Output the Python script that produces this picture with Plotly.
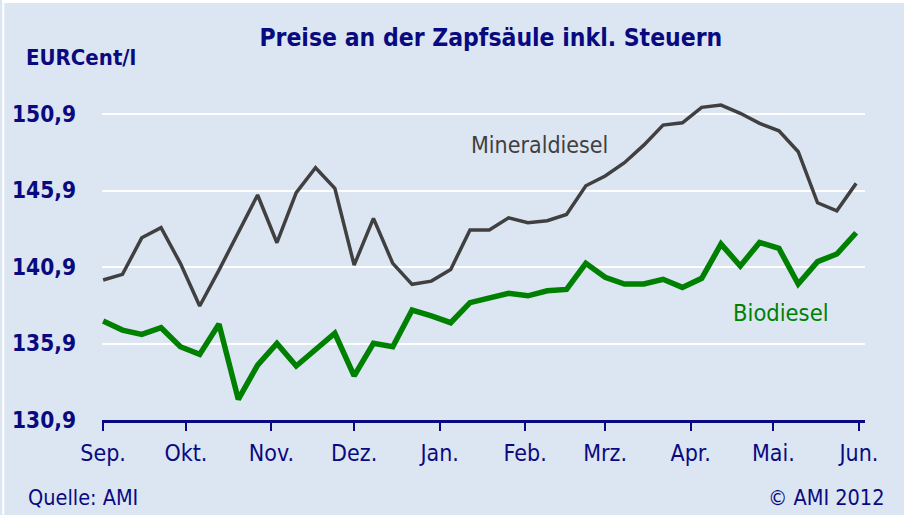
import plotly.graph_objects as go
import pandas as pd

dates = pd.date_range("2011-09-01", periods=40, freq="7D")

mineraldiesel = [140.05, 140.42, 142.81, 143.47, 141.14, 138.35, 140.70, 143.15, 145.61, 142.49,
                 145.76, 147.39, 146.04, 141.03, 144.08, 141.14, 139.77, 139.98, 140.74, 143.32,
                 143.32, 144.12, 143.80, 143.93, 144.34, 146.21, 146.85, 147.72, 148.87, 150.18,
                 150.33, 151.34, 151.49, 150.95, 150.29, 149.81, 148.44, 145.10, 144.58, 146.37]

biodiesel = [137.37, 136.78, 136.50, 136.93, 135.69, 135.19, 137.17, 132.25, 134.49, 135.91,
             134.43, 135.47, 136.57, 133.78, 135.91, 135.69, 138.09, 137.70, 137.26, 138.57,
             138.85, 139.18, 139.02, 139.35, 139.44, 141.14, 140.23, 139.79, 139.79, 140.10,
             139.57, 140.16, 142.40, 140.97, 142.51, 142.12, 139.79, 141.25, 141.75, 143.14]

month_ticks = ["2011-09-01", "2011-10-01", "2011-11-01", "2011-12-01", "2012-01-01",
               "2012-02-01", "2012-03-01", "2012-04-01", "2012-05-01", "2012-06-01"]
month_labels = ["Sep.", "Okt.", "Nov.", "Dez.", "Jan.", "Feb.", "Mrz.", "Apr.", "Mai.", "Jun."]

y_ticks = [130.9, 135.9, 140.9, 145.9, 150.9]
y_labels = ["130,9", "135,9", "140,9", "145,9", "150,9"]

NAVY = "#0a0a80"
BG = "#dce6f2"
FONT = "DejaVu Sans Condensed, Liberation Sans Narrow, sans-serif"

fig = go.Figure()
fig.add_trace(go.Scatter(x=dates, y=mineraldiesel, mode="lines",
                         line=dict(color="#404040", width=3.5), name="Mineraldiesel"))
fig.add_trace(go.Scatter(x=dates, y=biodiesel, mode="lines",
                         line=dict(color="#008000", width=5.5), name="Biodiesel"))

fig.update_layout(
    width=904, height=515, autosize=False,
    margin=dict(l=100, r=39, t=100, b=95),
    paper_bgcolor=BG, plot_bgcolor=BG,
    showlegend=False,
    font=dict(family=FONT, color=NAVY),
    title=dict(text="<b>Preise an der Zapfsäule inkl. Steuern</b>",
               x=0.543, xanchor="center", y=0.928, yanchor="middle",
               font=dict(size=24.5, color=NAVY, family=FONT)),
    xaxis=dict(
        type="date",
        range=["2011-08-31 14:00", "2012-06-03 05:00"],
        tickvals=month_ticks, ticktext=month_labels,
        ticks="outside", ticklen=8, tickwidth=2, tickcolor=NAVY,
        showline=True, linecolor=NAVY, linewidth=2.5,
        showgrid=False, zeroline=False,
        tickfont=dict(size=23, color=NAVY, family=FONT),
        ticklabelstandoff=3,
    ),
    yaxis=dict(
        range=[130.9, 151.82],
        tickvals=y_ticks, ticktext=["<b>%s</b>" % t for t in y_labels],
        showgrid=True, gridcolor="white", gridwidth=2,
        showline=False, zeroline=False, ticks="",
        tickfont=dict(size=22.5, color=NAVY, family=FONT),
        ticklabelstandoff=25,
    ),
    annotations=[
        dict(text="<b>EURCent/l</b>", xref="paper", yref="paper",
             x=-100/765 + 22/765, y=(420-57)/320, xanchor="left", yanchor="middle",
             showarrow=False, font=dict(size=22, color=NAVY, family=FONT)),
        dict(text="Mineraldiesel", xref="paper", yref="paper",
             x=(468-100)/765, y=(420-145)/320, xanchor="left", yanchor="middle",
             showarrow=False, font=dict(size=23, color="#404040", family=FONT)),
        dict(text="Biodiesel", xref="paper", yref="paper",
             x=(731-100)/765, y=(420-313)/320, xanchor="left", yanchor="middle",
             showarrow=False, font=dict(size=23.5, color="#008000", family=FONT)),
        dict(text="Quelle: AMI", xref="paper", yref="paper",
             x=(24-100)/765, y=(420-497)/320, xanchor="left", yanchor="middle",
             showarrow=False, font=dict(size=21.5, color=NAVY, family=FONT)),
        dict(text="© AMI 2012", xref="paper", yref="paper",
             x=(886-100)/765, y=(420-497)/320, xanchor="right", yanchor="middle",
             showarrow=False, font=dict(size=21.5, color=NAVY, family=FONT)),
    ],
    shapes=[
        dict(type="rect", xref="paper", yref="paper", layer="above",
             x0=-100/765, x1=804/765, y0=417/320, y1=420/320,
             fillcolor="white", line=dict(width=0)),
        dict(type="rect", xref="paper", yref="paper", layer="above",
             x0=-100/765, x1=-98/765, y0=-95/320, y1=420/320,
             fillcolor="white", line=dict(width=0)),
    ],
)

fig.write_html("out.html", config={"displayModeBar": False},
               post_script="document.body.style.margin='0';document.body.style.overflow='hidden';")
